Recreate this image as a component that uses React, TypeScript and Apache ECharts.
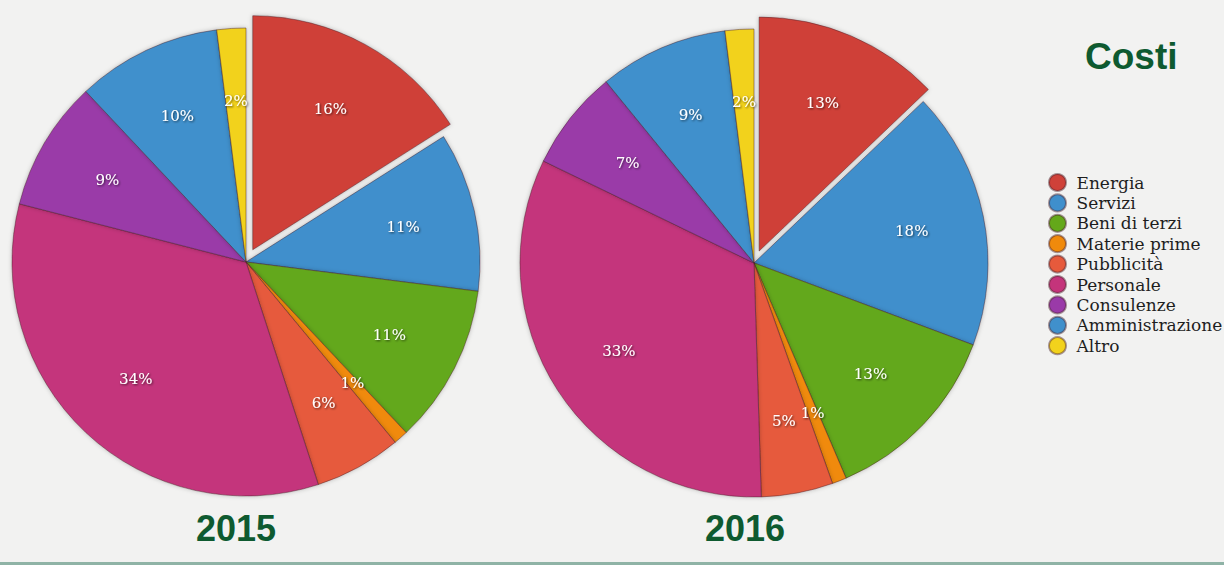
import React, { useEffect, useRef } from "react";
import * as echarts from "echarts";

const categories = ["Energia", "Servizi", "Beni di terzi", "Materie prime", "Pubblicità", "Personale", "Consulenze", "Amministrazione", "Altro"];
const values2015 = [16, 11, 11, 1, 6, 34, 9, 10, 2];
const values2016 = [13, 18, 13, 1, 5, 33, 7, 9, 2];
const years = ["2015", "2016"];
const chartTitle = "Costi";
const palette = ["#cf4139", "#3f8fcc", "#64a81a", "#f08a0c", "#e65a3c", "#c4347b", "#9a3aa8", "#4090cc", "#f2d21c"];

const PIE_R = 234;
const LABEL_R = 158;

function buildData(values: number[]) {
  return categories.map((name, i) => ({ name, value: values[i], selected: i === 0 }));
}

function pieSeries(values: number[], center: number[], offset: number) {
  const main = {
    type: "pie",
    center,
    radius: [0, PIE_R],
    startAngle: 90,
    clockwise: true,
    selectedMode: "single",
    selectedOffset: offset,
    avoidLabelOverlap: false,
    label: { show: false },
    labelLine: { show: false },
    emphasis: { disabled: true },
    itemStyle: {
      borderColor: "rgba(70,30,40,0.45)",
      borderWidth: 1,
      shadowBlur: 4,
      shadowColor: "rgba(0,0,0,0.25)",
    },
    data: buildData(values),
  };
  const overlay = {
    type: "pie",
    center,
    radius: [2 * LABEL_R - PIE_R, PIE_R],
    startAngle: 90,
    clockwise: true,
    selectedMode: "single",
    selectedOffset: offset,
    avoidLabelOverlap: false,
    silent: true,
    emphasis: { disabled: true },
    itemStyle: { color: "rgba(0,0,0,0)", borderWidth: 0 },
    labelLine: { show: false },
    label: {
      show: true,
      position: "inside",
      formatter: (p: any) => p.value + "%",
      color: "#ffffff",
      fontFamily: "DejaVu Serif",
      fontSize: 15,
      textShadowColor: "rgba(0,0,0,0.65)",
      textShadowBlur: 2,
      textShadowOffsetX: 1,
      textShadowOffsetY: 1,
      textBorderWidth: 0,
    },
    data: buildData(values),
  };
  return [main, overlay];
}

export default function App() {
  const ref = useRef<HTMLDivElement>(null);
  useEffect(() => {
    if (!ref.current) return;
    const chart = echarts.init(ref.current, null, { renderer: "svg" });
    const titleStyle = { fontFamily: "Liberation Sans", fontWeight: "bold", fontSize: 36, fill: "#0e5a30" };
    chart.setOption({
      animation: false,
      backgroundColor: "#f2f2f1",
      color: palette,
      legend: {
        data: categories,
        orient: "vertical",
        left: 1043,
        top: 168,
        icon: "circle",
        itemWidth: 26,
        itemHeight: 17,
        itemGap: 1.4,
        selectedMode: false,
        textStyle: { fontFamily: "DejaVu Serif", fontSize: 17, lineHeight: 17, color: "#1e1e1e", padding: [0, 0, 0, 1] },
      },
      graphic: [
        { type: "text", left: 1085, top: 38, style: { text: chartTitle, ...titleStyle, fontSize: 37 } },
        { type: "text", x: 236, y: 528, style: { text: years[0], align: "center", verticalAlign: "middle", ...titleStyle } },
        { type: "text", x: 745, y: 528, style: { text: years[1], align: "center", verticalAlign: "middle", ...titleStyle } },
        { type: "rect", shape: { x: 0, y: 562, width: 1224, height: 3 }, style: { fill: "#8fb3a6" } },
      ],
      series: [...pieSeries(values2015, [246, 262], 14), ...pieSeries(values2016, [754, 263], 13)],
    });
    return () => chart.dispose();
  }, []);
  return <div ref={ref} style={{ position: "fixed", left: 0, top: 0, width: 1224, height: 565 }} />;
}
